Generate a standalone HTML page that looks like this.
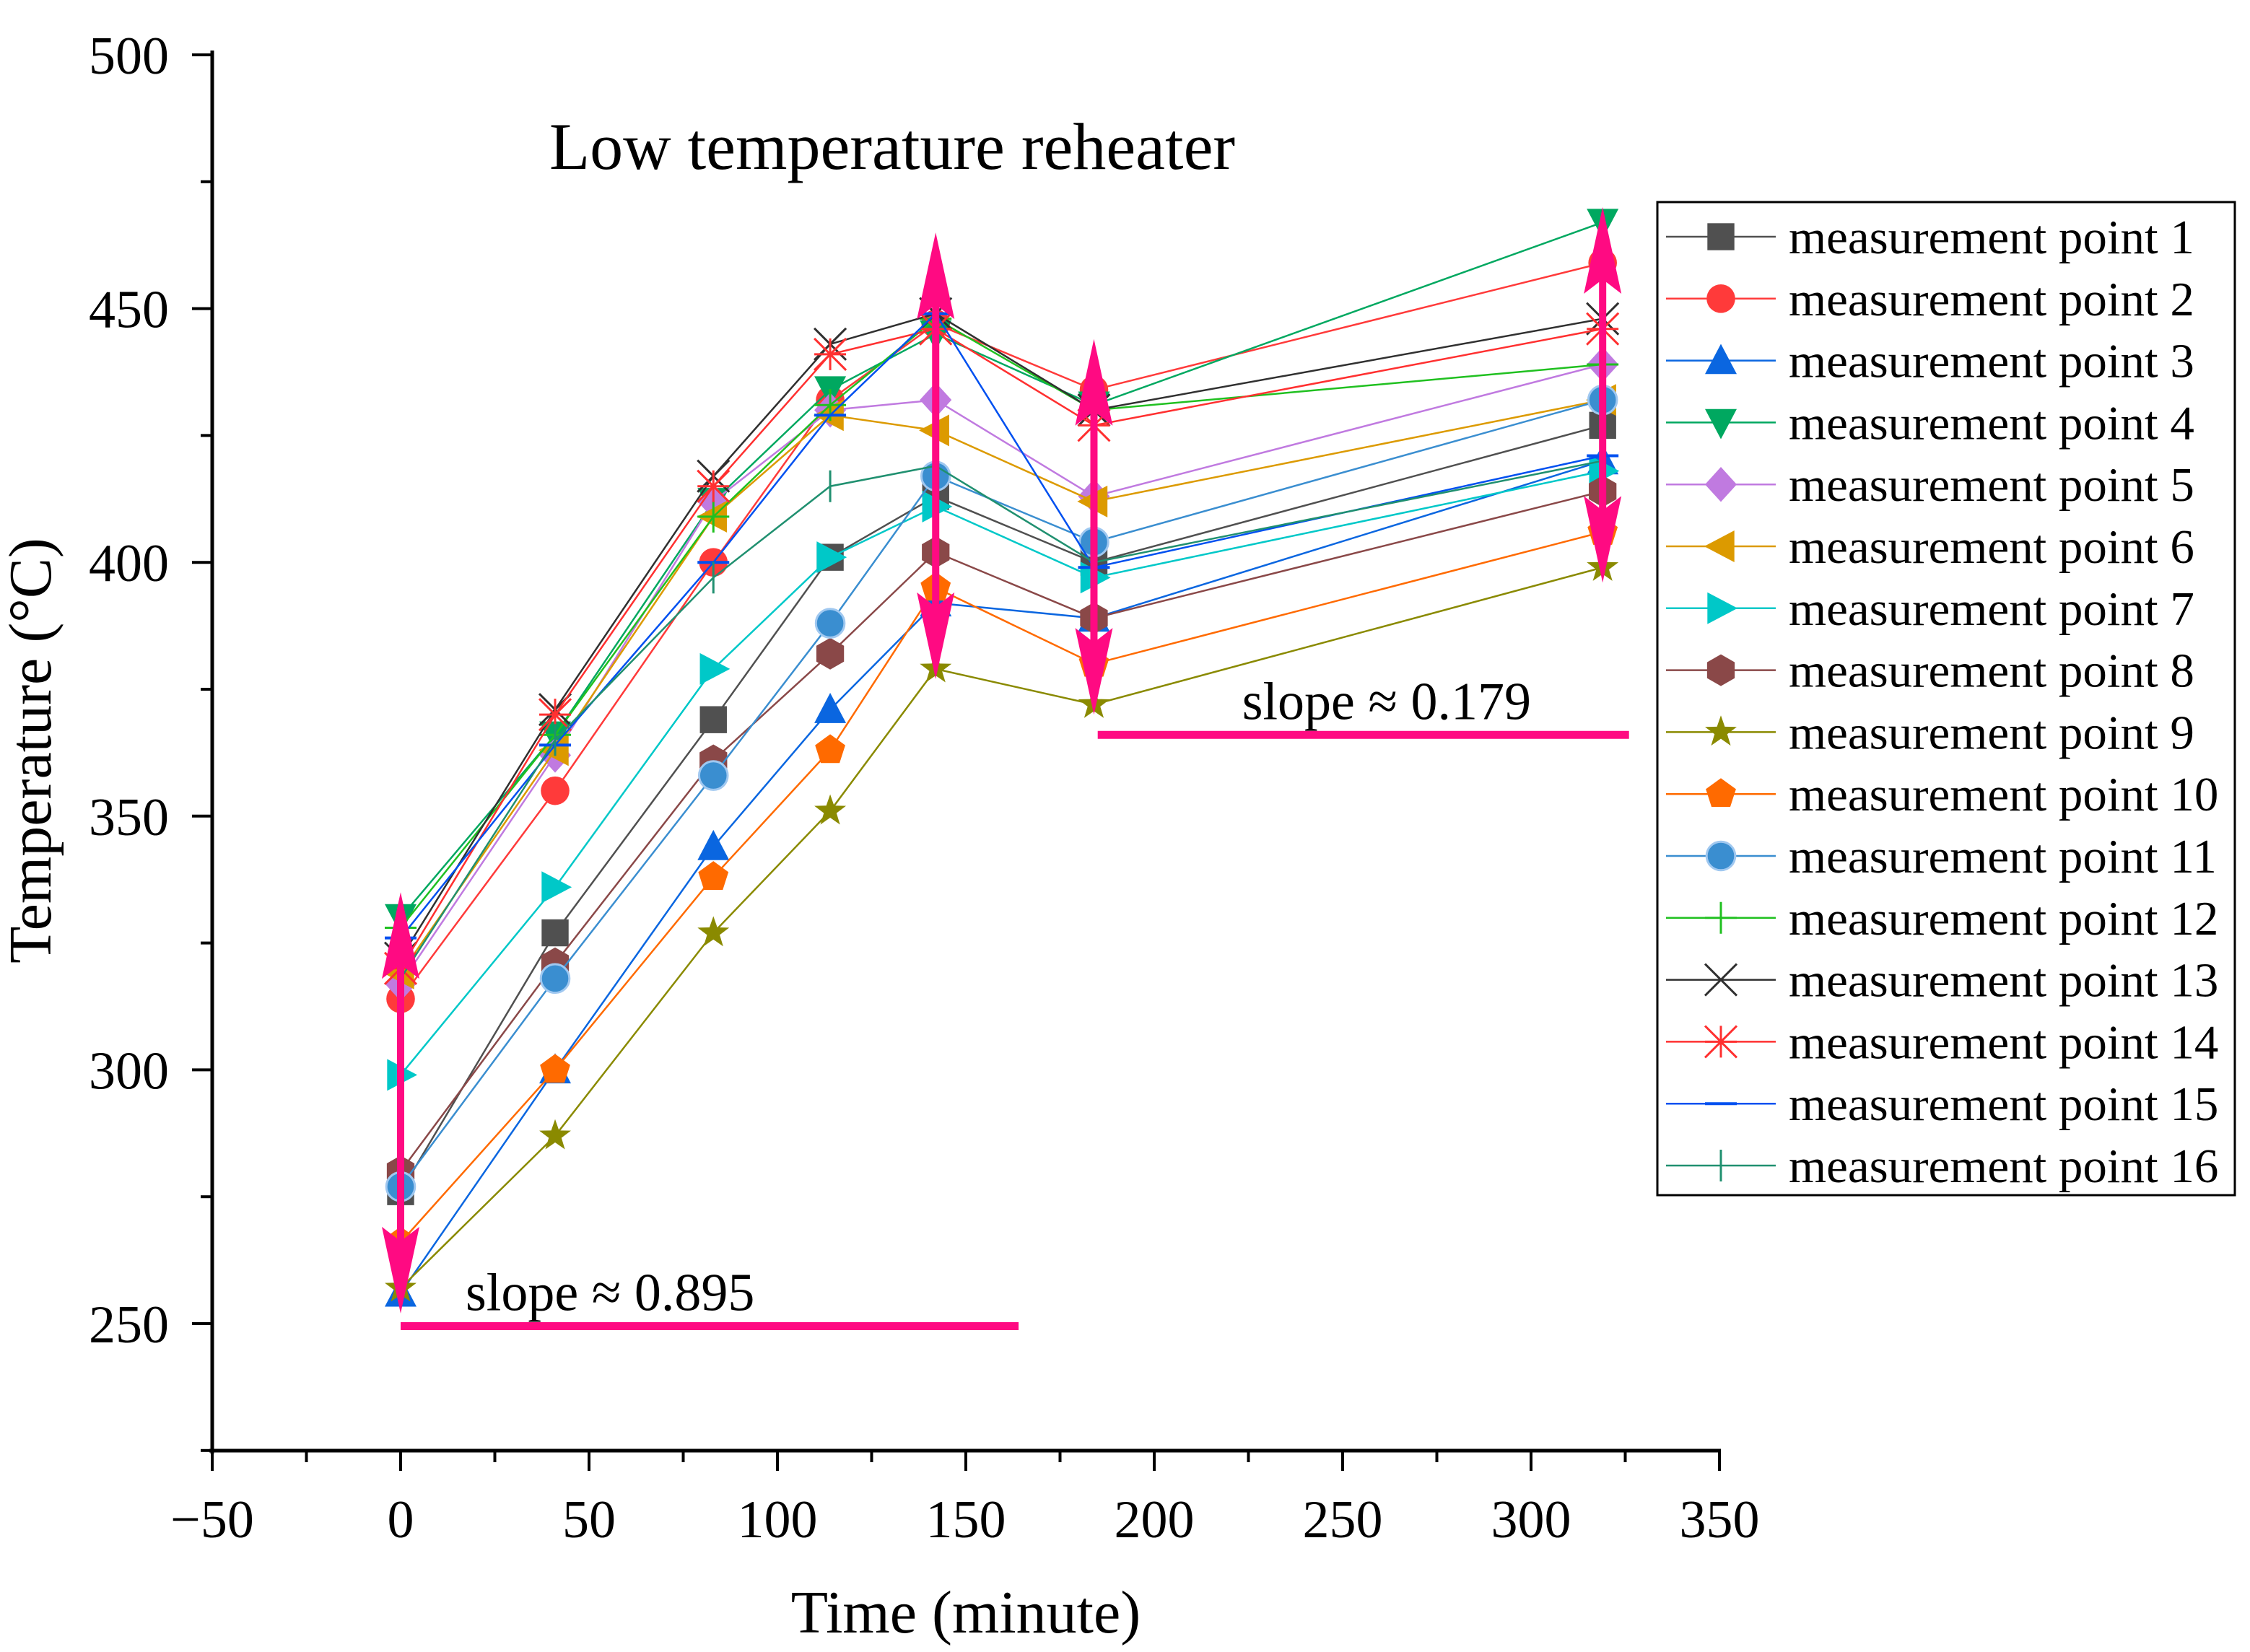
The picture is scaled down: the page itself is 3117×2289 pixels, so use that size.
<!DOCTYPE html>
<html><head><meta charset="utf-8"><style>
html,body{margin:0;padding:0;background:#fff;}
svg{display:block;font-family:"Liberation Serif",serif;}
</style></head><body>
<svg id="chart" width="3117" height="2289" viewBox="0 0 3117 2289" xmlns="http://www.w3.org/2000/svg">
<text x="1236" y="234" font-size="92" text-anchor="middle">Low temperature reheater</text>
<text x="1338" y="2262" font-size="84" text-anchor="middle">Time (minute)</text>
<text transform="translate(70,1040) rotate(-90)" font-size="84" text-anchor="middle">Temperature (°C)</text>
<g id="plot"></g>
<g id="legend"></g>
</svg>
<script>
const times = [0, 41, 83, 114, 142, 184, 319];
const seriesNames = ["measurement point 1","measurement point 2","measurement point 3","measurement point 4","measurement point 5","measurement point 6","measurement point 7","measurement point 8","measurement point 9","measurement point 10","measurement point 11","measurement point 12","measurement point 13","measurement point 14","measurement point 15","measurement point 16"];
const s1 = [276, 327, 369, 401, 413, 400, 427];
const s2 = [314, 355, 400, 432, 447, 434, 459];
const s3 = [256, 300, 344, 371, 392, 389, 420];
const s4 = [330, 366, 412, 434, 445, 431, 467];
const s5 = [317, 362, 412, 430, 432, 413, 439];
const s6 = [319, 363, 409, 429, 426, 412, 432];
const s7 = [299, 336, 379, 401, 411, 397, 418];
const s8 = [280, 321, 361, 382, 402, 389, 414];
const s9 = [257, 287, 327, 351, 379, 372, 399];
const s10 = [266, 300, 338, 363, 395, 380, 406];
const s11 = [277, 318, 358, 388, 417, 404, 432];
const s12 = [328, 366, 409, 431, 448, 430, 439];
const s13 = [322, 371, 417, 443, 449, 430, 448];
const s14 = [320, 370, 415, 441, 446, 427, 446];
const s15 = [326, 364, 400, 429, 449, 399, 421];
const s16 = [318, 365, 397, 415, 419, 400, 420];
const xTicks = [-50, 0, 50, 100, 150, 200, 250, 300, 350];
const yTicks = [250, 300, 350, 400, 450, 500];
const arrowXs = [0, 142, 184, 319];
const arrowLows = [252, 377, 370, 396];
const arrowHighs = [335, 465, 444, 470];
const slopeLabels = ["slope ≈ 0.895", "slope ≈ 0.179"];
const slopeStart = [0, 185];
const slopeEnd = [164, 326];
const slopeLevel = [249.5, 366];

const NS = "http://www.w3.org/2000/svg";
function X(v){ return 294 + (v + 50) * 5.22; }
function Y(v){ return 76 + (500 - v) * 7.032; }
function mk(tag, attrs, parent){ const e = document.createElementNS(NS, tag); for (const k in attrs) e.setAttribute(k, attrs[k]); parent.appendChild(e); return e; }

const plot = document.getElementById("plot");
const allSeries = [s1,s2,s3,s4,s5,s6,s7,s8,s9,s10,s11,s12,s13,s14,s15,s16];
const colors = ["#505050","#ff3a3a","#0a66e0","#00a860","#c07ae0","#dc9a00","#00c8c8","#8a4848","#8a8a00","#ff6a00","#3a8ed0","#20c020","#303030","#ff3030","#0050f0","#209070"];
const shapes = ["square","circle","up","down","diamond","left","right","hex","star","pent","sphere","plus","x","ast","dash","vbar"];

const axes = mk("g", {}, plot);


mk("line", {x1:294, y1:70, x2:294, y2:2014, stroke:"#000", "stroke-width":5}, axes);
mk("line", {x1:290, y1:2010, x2:2384, y2:2010, stroke:"#000", "stroke-width":5}, axes);
for (let v = -50; v <= 350; v += 25) {
  const major = v % 50 === 0;
  mk("line", {x1:X(v), y1:2010, x2:X(v), y2:2010 + (major ? 28 : 16), stroke:"#000", "stroke-width":4}, axes);
}
for (let v = 225; v <= 500; v += 25) {
  const major = v % 50 === 0;
  mk("line", {x1:294, y1:Y(v), x2:294 - (major ? 28 : 16), y2:Y(v), stroke:"#000", "stroke-width":4}, axes);
}
xTicks.forEach(v => {
  const t = mk("text", {x:X(v), y:2130, "font-size":74, "text-anchor":"middle"}, axes);
  
  
  t.textContent = v < 0 ? "\u2212" + Math.abs(v) : String(v);
});
yTicks.forEach(v => {
  const t = mk("text", {x:234, y:Y(v) + 26, "font-size":74, "text-anchor":"end"}, axes);
  
  
  t.textContent = String(v);
});

function marker(shape, cx, cy, color, parent, r) {
  r = r || 22;
  let e;
  const p = (pts) => pts.map(q => (cx + q[0]*r) + "," + (cy + q[1]*r)).join(" ");
  switch (shape) {
    case "square": e = mk("rect", {x:cx-r*0.85, y:cy-r*0.85, width:r*1.7, height:r*1.7, fill:color}, parent); break;
    case "circle": e = mk("circle", {cx:cx, cy:cy, r:r*0.9, fill:color}, parent); break;
    case "sphere": e = mk("circle", {cx:cx, cy:cy, r:r*0.9, fill:color, stroke:"#a0c8f0", "stroke-width":3}, parent); break;
    case "up": e = mk("polygon", {points:p([[0,-1.05],[1,0.85],[-1,0.85]]), fill:color}, parent); break;
    case "down": e = mk("polygon", {points:p([[0,1.05],[1,-0.85],[-1,-0.85]]), fill:color}, parent); break;
    case "left": e = mk("polygon", {points:p([[-1.05,0],[0.85,-1],[0.85,1]]), fill:color}, parent); break;
    case "right": e = mk("polygon", {points:p([[1.05,0],[-0.85,-1],[-0.85,1]]), fill:color}, parent); break;
    case "diamond": e = mk("polygon", {points:p([[0,-1.1],[1,0],[0,1.1],[-1,0]]), fill:color}, parent); break;
    case "hex": e = mk("polygon", {points:p([[0,-1],[0.87,-0.5],[0.87,0.5],[0,1],[-0.87,0.5],[-0.87,-0.5]]), fill:color}, parent); break;
    case "pent": e = mk("polygon", {points:p([[0,-1],[0.95,-0.31],[0.59,0.81],[-0.59,0.81],[-0.95,-0.31]]), fill:color}, parent); break;
    case "star": { const pts = []; for (let i = 0; i < 10; i++) { const a = -Math.PI/2 + i*Math.PI/5; const rr = i % 2 ? 0.42 : 1.05; pts.push([Math.cos(a)*rr, Math.sin(a)*rr]); } e = mk("polygon", {points:p(pts), fill:color}, parent); break; }
    case "plus": e = mk("path", {d:`M${cx-r} ${cy}H${cx+r}M${cx} ${cy-r}V${cy+r}`, stroke:color, "stroke-width":3, fill:"none"}, parent); break;
    case "x": e = mk("path", {d:`M${cx-r} ${cy-r}L${cx+r} ${cy+r}M${cx+r} ${cy-r}L${cx-r} ${cy+r}`, stroke:color, "stroke-width":3, fill:"none"}, parent); break;
    case "ast": e = mk("path", {d:`M${cx-r} ${cy-r}L${cx+r} ${cy+r}M${cx+r} ${cy-r}L${cx-r} ${cy+r}M${cx} ${cy-r}V${cy+r}M${cx-r} ${cy}H${cx+r}`, stroke:color, "stroke-width":3, fill:"none"}, parent); break;
    case "dash": e = mk("path", {d:`M${cx-r} ${cy}H${cx+r}`, stroke:color, "stroke-width":4, fill:"none"}, parent); break;
    case "vbar": e = mk("path", {d:`M${cx} ${cy-r}V${cy+r}`, stroke:color, "stroke-width":3, fill:"none"}, parent); break;
  }
  return e;
}

allSeries.forEach((vals, si) => {
  const g = mk("g", {}, plot);
  
  
  const d = vals.map((v, i) => (i ? "L" : "M") + X(times[i]) + " " + Y(v)).join(" ");
  const ln = mk("path", {d:d, stroke:colors[si], "stroke-width":2.5, fill:"none"}, g);
  
  
  vals.forEach((v, i) => {
    const m = marker(shapes[si], X(times[i]), Y(v), colors[si], g);
    
    
  });
});

const pink = "#ff0a82";
arrowXs.forEach((xv, i) => {
  const g = mk("g", {}, plot);
  
  
  const x = X(xv), y1 = Y(arrowHighs[i]), y2 = Y(arrowLows[i]);
  mk("line", {x1:x, y1:y1 + 60, x2:x, y2:y2 - 60, stroke:pink, "stroke-width":10}, g);
  mk("polygon", {points:`${x},${y1} ${x-26},${y1+120} ${x},${y1+100} ${x+26},${y1+120}`, fill:pink}, g);
  mk("polygon", {points:`${x},${y2} ${x-26},${y2-120} ${x},${y2-100} ${x+26},${y2-120}`, fill:pink}, g);
});
slopeLabels.forEach((lab, i) => {
  const l = mk("line", {x1:X(slopeStart[i]), y1:Y(slopeLevel[i]), x2:X(slopeEnd[i]), y2:Y(slopeLevel[i]), stroke:pink, "stroke-width":11}, plot);
  
  
  const t = mk("text", {x:X(slopeStart[i]) + (i ? 200 : 90), y:Y(slopeLevel[i]) - 22, "font-size":74}, plot);
  
  
  t.textContent = lab;
});

const leg = document.getElementById("legend");
mk("rect", {x:2296, y:280, width:800, height:1376, fill:"#fff", stroke:"#000", "stroke-width":3}, leg);
seriesNames.forEach((name, i) => {
  const y = 328 + i * 85.8;
  const g = mk("g", {}, leg);
  
  
  mk("line", {x1:2308, y1:y, x2:2460, y2:y, stroke:colors[i], "stroke-width":2.5}, g);
  marker(shapes[i], 2384, y, colors[i], g, 22);
  const t = mk("text", {x:2478, y:y + 23, "font-size":67}, g);
  t.textContent = name;
});
</script>
</body></html>
